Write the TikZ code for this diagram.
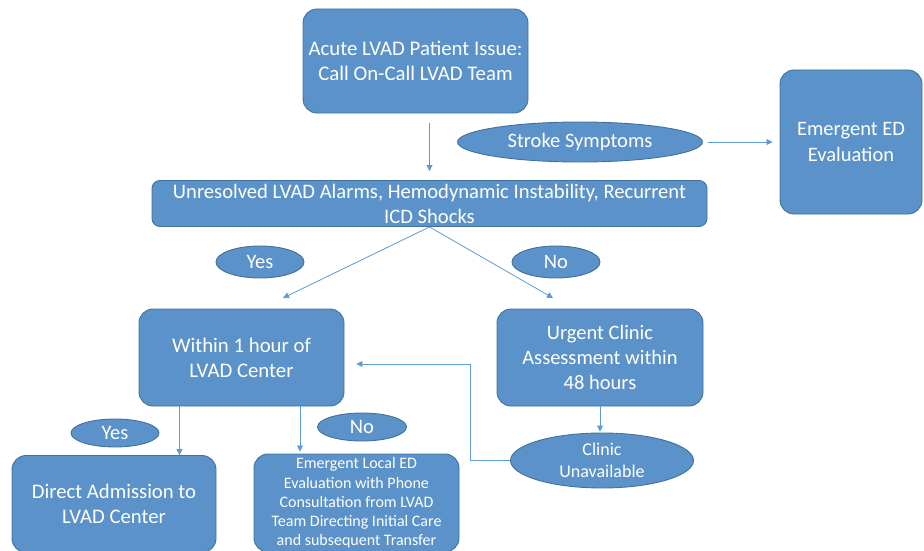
\documentclass[tikz,border=0pt]{standalone}
\usepackage{fontspec}
\setmainfont{Carlito}
\usepackage{xcolor}
\usetikzlibrary{shapes.geometric, arrows.meta, positioning, calc}

\definecolor{boxfill}{RGB}{91,146,201}
\definecolor{boxdraw}{RGB}{65,113,156}
\definecolor{linkblue}{RGB}{91,155,213}

\tikzset{
  flowbox/.style={rectangle, rounded corners=14pt, draw=boxdraw, fill=boxfill,
                  line width=0.9pt, text=white, align=center, inner sep=0pt},
  choice/.style={ellipse, draw=boxdraw, fill=boxfill, line width=0.9pt,
                 text=white, align=center, inner sep=0pt},
  link/.style={draw=linkblue, line width=0.8pt, -{Triangle[length=6pt,width=6pt]}}
}

\begin{document}
\begin{tikzpicture}[x=1pt, y=-1pt]
    \useasboundingbox (0,0) rectangle (924,551);

    \node[flowbox, minimum width=225pt, minimum height=104pt,
          font=\fontsize{20.8}{25.5}\selectfont] (acute) at (415.5,61)
          {Acute LVAD Patient Issue:\\Call On-Call LVAD Team};
    \node[choice, minimum width=245pt, minimum height=40pt,
          font=\fontsize{20.5}{22}\selectfont] (stroke) at (580,142) {Stroke Symptoms};
    \node[flowbox, minimum width=142pt, minimum height=144pt,
          font=\fontsize{20.5}{25.5}\selectfont] (eded) at (851,142)
          {Emergent ED\\Evaluation};
    \node[flowbox, rounded corners=8pt, minimum width=555pt, minimum height=46pt,
          font=\fontsize{20.6}{25}\selectfont] (alarms) at (429.5,203.5)
          {Unresolved LVAD Alarms, Hemodynamic Instability, Recurrent\\ICD Shocks};

    \node[choice, minimum width=88pt, minimum height=32pt,
          font=\fontsize{20.5}{22}\selectfont] (yestop) at (260,262) {Yes};
    \node[choice, minimum width=88pt, minimum height=32pt,
          font=\fontsize{20.5}{22}\selectfont] (notop) at (556,262) {No};

    \node[flowbox, minimum width=205pt, minimum height=97pt,
          font=\fontsize{20.8}{25}\selectfont] (hour) at (241.5,357.5)
          {Within 1 hour of\\LVAD Center};
    \node[flowbox, minimum width=206pt, minimum height=97pt,
          font=\fontsize{20.5}{25}\selectfont] (urgent) at (600,357.5)
          {Urgent Clinic\\Assessment within\\48 hours};

    \node[choice, minimum width=88pt, minimum height=28pt,
          font=\fontsize{20.5}{22}\selectfont] (yeslow) at (115,433) {Yes};
    \node[choice, minimum width=89pt, minimum height=28pt,
          font=\fontsize{20.5}{22}\selectfont] (nolow) at (362,427) {No};
    \node[choice, minimum width=183pt, minimum height=55pt,
          font=\fontsize{18}{22}\selectfont] (unavail) at (602,460.5)
          {Clinic\\Unavailable};

    \node[flowbox, minimum width=204pt, minimum height=97pt,
          font=\fontsize{20.7}{24.5}\selectfont] (direct) at (114,504)
          {Direct Admission to\\LVAD Center};
    \node[flowbox, minimum width=205pt, minimum height=98pt,
          font=\fontsize{16}{19.2}\selectfont] (local) at (356.5,503)
          {Emergent Local ED\\Evaluation with Phone\\Consultation from LVAD\\Team Directing Initial Care\\and subsequent Transfer};

    % free ends of the links
    \coordinate (yesend) at (283,298);
    \coordinate (noend) at (553,298);
    \coordinate (back) at (470,364);

    \draw[link, shorten <=10pt, shorten >=9pt] (acute.south -| alarms.north) -- (alarms.north);
    \draw[link, shorten <=5pt, shorten >=7pt] (stroke.east) -- (eded.west);
    \draw[link] (alarms.south) -- (yesend);
    \draw[link] (alarms.south) -- (noend);
    \draw[link] ([xshift=-62pt]hour.south) -- ([xshift=-62pt]hour.south |- direct.north);
    \draw[link, shorten >=2pt] ([xshift=58.5pt]hour.south) -- ([xshift=58.5pt]hour.south |- local.north);
    \draw[link, shorten >=1pt] (urgent.south) -- (urgent.south |- unavail.north);
    \draw[link, shorten >=12pt] (unavail.west) -| (back) -- (back -| hour.east);
\end{tikzpicture}
\end{document}
